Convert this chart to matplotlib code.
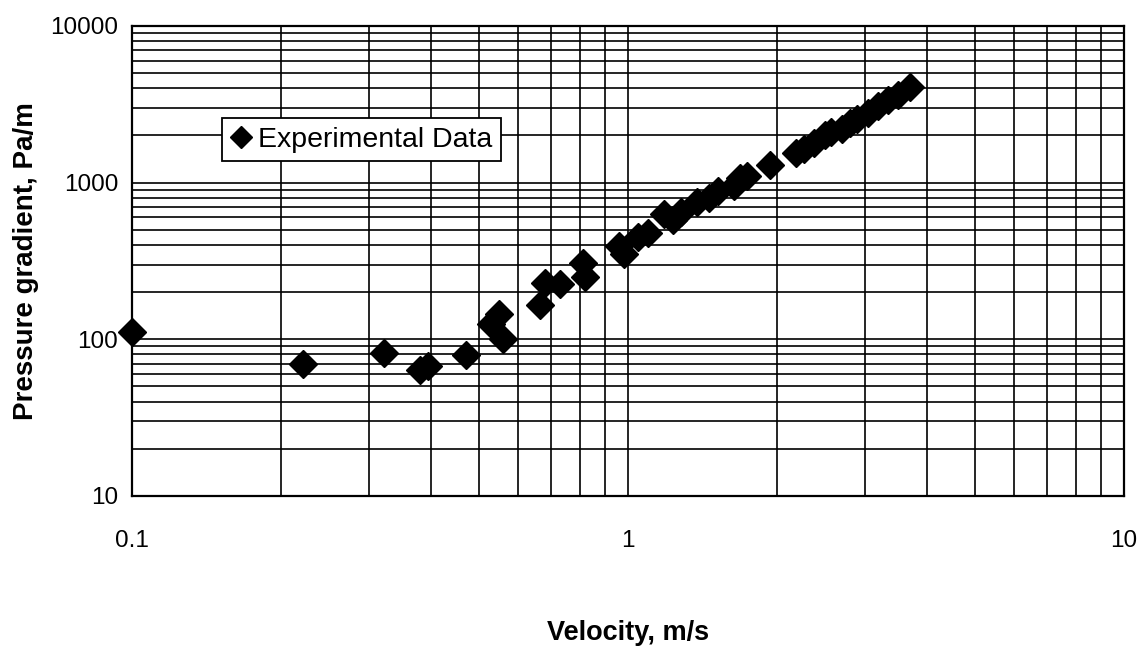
import matplotlib.pyplot as plt
from matplotlib.ticker import LogLocator, FixedLocator, FixedFormatter, NullFormatter

plt.rcParams['font.family'] = ['Liberation Sans', 'DejaVu Sans']

# velocity (m/s) and pressure gradient (Pa/m)
velocidade = [0.1, 0.221, 0.322, 0.38, 0.395, 0.471, 0.53, 0.55, 0.56,
              0.665, 0.68, 0.73, 0.81, 0.82, 0.96, 0.98, 1.05, 1.1,
              1.18, 1.23, 1.28, 1.38, 1.46, 1.52, 1.64, 1.68, 1.74,
              1.93, 2.18, 2.26, 2.37, 2.5, 2.57, 2.7, 2.8, 2.9,
              3.05, 3.2, 3.35, 3.5, 3.7]
gradiente = [111, 70, 82, 64, 68, 79, 125, 145, 100,
             165, 229, 225, 305, 250, 395, 350, 450, 480,
             630, 575, 650, 750, 800, 880, 950, 1070, 1100,
             1300, 1550, 1650, 1800, 2000, 2100, 2200, 2400, 2550,
             2800, 3100, 3350, 3600, 4050]

x_ticks = [0.1, 1, 10]
x_labels = ['0.1', '1', '10']
y_ticks = [10, 100, 1000, 10000]
y_labels = ['10', '100', '1000', '10000']

fig = plt.figure(figsize=(11.41, 6.48), dpi=100)
ax = fig.add_axes([0.1157, 0.2346, 0.8693, 0.7253])

ax.plot(velocidade, gradiente, linestyle='none', marker='D', markersize=14,
        color='black', label='Experimental Data', zorder=3, clip_on=False)

ax.set_xscale('log')
ax.set_yscale('log')
ax.set_xlim(0.1, 10)
ax.set_ylim(10, 10000)

ax.xaxis.set_major_locator(FixedLocator(x_ticks))
ax.xaxis.set_major_formatter(FixedFormatter(x_labels))
ax.yaxis.set_major_locator(FixedLocator(y_ticks))
ax.yaxis.set_major_formatter(FixedFormatter(y_labels))
ax.xaxis.set_minor_locator(LogLocator(base=10, subs=range(2, 10)))
ax.yaxis.set_minor_locator(LogLocator(base=10, subs=range(2, 10)))
ax.xaxis.set_minor_formatter(NullFormatter())
ax.yaxis.set_minor_formatter(NullFormatter())

ax.grid(True, which='both', color='black', linewidth=1.2)
ax.tick_params(which='both', length=0)
ax.tick_params(axis='x', pad=24.5, labelsize=17.5)
ax.tick_params(axis='y', pad=10, labelsize=17.5)
for s in ax.spines.values():
    s.set_linewidth(1.6)

ax.set_xlabel('Velocity, m/s', fontsize=19.5, fontweight='bold', labelpad=49)
ax.set_ylabel('Pressure gradient, Pa/m', fontsize=20, fontweight='bold', labelpad=8)

leg = ax.legend(loc='upper left', bbox_to_anchor=(0.0907, 0.804), fontsize=20.5,
                markerscale=0.8, handlelength=0.77, handletextpad=0.2,
                borderpad=0.3, borderaxespad=0, fancybox=False, framealpha=1)
leg.get_frame().set_edgecolor('black')
leg.get_frame().set_linewidth(1.3)

fig.savefig('out.png', dpi=100)
